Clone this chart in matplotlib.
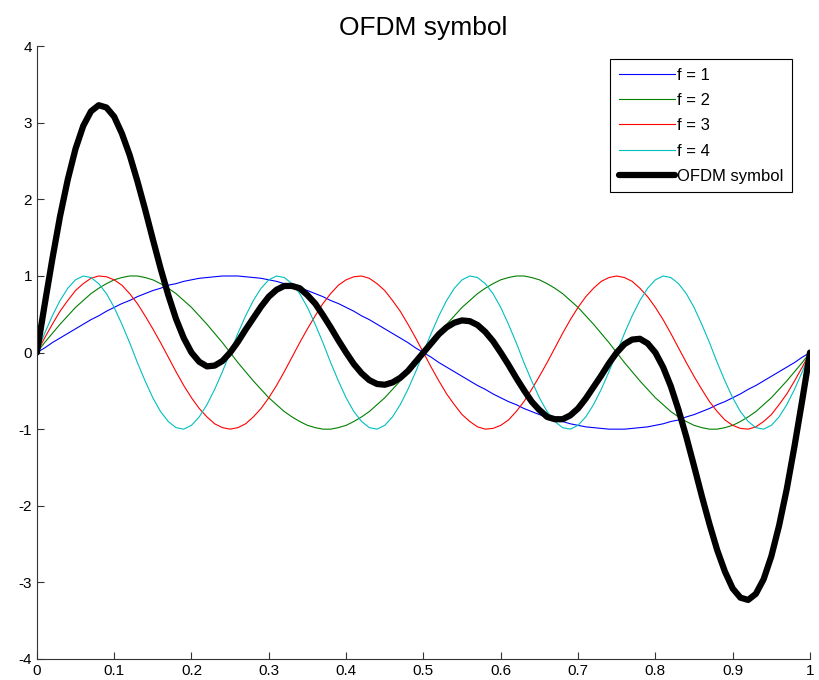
import numpy as np
import matplotlib
matplotlib.use("Agg")
import matplotlib.pyplot as plt

# sample values, t = 0, 0.01, ..., 1
f1 = [0, .06, .13, .19, .25, .31, .37, .43, .48, .54, .59, .64, .68, .73, .77, .81, .84, .88, .90, .93,
      .95, .97, .98, .99, 1.00, 1.00, 1.00, .99, .98, .97, .95, .93, .90, .88, .84, .81, .77, .73, .68, .64,
      .59, .54, .48, .43, .37, .31, .25, .19, .13, .06, 0,
      -.06, -.13, -.19, -.25, -.31, -.37, -.43, -.48, -.54, -.59, -.64, -.68, -.73, -.77, -.81, -.84, -.88, -.90, -.93,
      -.95, -.97, -.98, -.99, -1.00, -1.00, -1.00, -.99, -.98, -.97, -.95, -.93, -.90, -.88, -.84, -.81, -.77, -.73, -.68, -.64,
      -.59, -.54, -.48, -.43, -.37, -.31, -.25, -.19, -.13, -.06, 0]

f2 = [0, .13, .25, .37, .48, .59, .68, .77, .84, .90, .95, .98, 1.00, 1.00, .98, .95, .90, .84, .77, .68,
      .59, .48, .37, .25, .13, 0, -.13, -.25, -.37, -.48, -.59, -.68, -.77, -.84, -.90, -.95, -.98, -1.00, -1.00, -.98,
      -.95, -.90, -.84, -.77, -.68, -.59, -.48, -.37, -.25, -.13, 0,
      .13, .25, .37, .48, .59, .68, .77, .84, .90, .95, .98, 1.00, 1.00, .98, .95, .90, .84, .77, .68,
      .59, .48, .37, .25, .13, 0, -.13, -.25, -.37, -.48, -.59, -.68, -.77, -.84, -.90, -.95, -.98, -1.00, -1.00, -.98,
      -.95, -.90, -.84, -.77, -.68, -.59, -.48, -.37, -.25, -.13, 0]

f3 = [0, .19, .37, .54, .68, .81, .90, .97, 1.00, .99, .95, .88, .77, .64, .48, .31, .13, -.06, -.25, -.43,
      -.59, -.73, -.84, -.93, -.98, -1.00, -.98, -.93, -.84, -.73, -.59, -.43, -.25, -.06, .13, .31, .48, .64, .77, .88,
      .95, .99, 1.00, .97, .90, .81, .68, .54, .37, .19, 0,
      -.19, -.37, -.54, -.68, -.81, -.90, -.97, -1.00, -.99, -.95, -.88, -.77, -.64, -.48, -.31, -.13, .06, .25, .43,
      .59, .73, .84, .93, .98, 1.00, .98, .93, .84, .73, .59, .43, .25, .06, -.13, -.31, -.48, -.64, -.77, -.88,
      -.95, -.99, -1.00, -.97, -.90, -.81, -.68, -.54, -.37, -.19, 0]

f4 = [0, .25, .48, .68, .84, .95, 1.00, .98, .90, .77, .59, .37, .13, -.13, -.37, -.59, -.77, -.90, -.98, -1.00,
      -.95, -.84, -.68, -.48, -.25, 0, .25, .48, .68, .84, .95, 1.00, .98, .90, .77, .59, .37, .13, -.13, -.37,
      -.59, -.77, -.90, -.98, -1.00, -.95, -.84, -.68, -.48, -.25, 0,
      .25, .48, .68, .84, .95, 1.00, .98, .90, .77, .59, .37, .13, -.13, -.37, -.59, -.77, -.90, -.98, -1.00,
      -.95, -.84, -.68, -.48, -.25, 0, .25, .48, .68, .84, .95, 1.00, .98, .90, .77, .59, .37, .13, -.13, -.37,
      -.59, -.77, -.90, -.98, -1.00, -.95, -.84, -.68, -.48, -.25, 0]

ofdm = [0, .62, 1.22, 1.78, 2.26, 2.66, 2.96, 3.15, 3.23, 3.20, 3.08, 2.86, 2.58, 2.24, 1.87, 1.48, 1.10, .75, .44, .19,
        0, -.12, -.18, -.17, -.11, 0, .14, .30, .45, .60, .73, .82, .87, .87, .84, .75, .64, .49, .33, .16,
        0, -.15, -.27, -.36, -.41, -.42, -.39, -.33, -.24, -.12, 0,
        .12, .24, .33, .39, .42, .41, .36, .27, .15, 0, -.16, -.33, -.49, -.64, -.75, -.84, -.87, -.87, -.82, -.73,
        -.60, -.45, -.30, -.14, 0, .11, .17, .18, .12, 0, -.19, -.44, -.75, -1.10, -1.48, -1.87, -2.24, -2.58, -2.86, -3.08,
        -3.20, -3.23, -3.15, -2.96, -2.66, -2.26, -1.78, -1.22, -.62, 0]

labels = ["f = 1", "f = 2", "f = 3", "f = 4", "OFDM symbol"]
colors = ["#0000ff", "#008000", "#ff0000", "#00bfbf"]

t = np.linspace(0, 1, len(f1))

plt.rcParams['font.family'] = ['Liberation Sans', 'DejaVu Sans']
plt.rcParams['axes.unicode_minus'] = False

fig = plt.figure(figsize=(8.19, 6.8), dpi=100)
ax = fig.add_axes([0.045, 0.031, 0.944, 0.901])

for ys, c, lab in zip([f1, f2, f3, f4], colors, labels[:4]):
    ax.plot(t, ys, color=c, linewidth=0.8, label=lab)
ax.plot(t, ofdm, color="black", linewidth=4.5, label=labels[4], solid_capstyle="round")

ax.set_xlim(0, 1)
ax.set_ylim(-4, 4)
ax.set_xticks(np.arange(0, 1.01, 0.1))
ax.set_xticklabels(["0", "0.1", "0.2", "0.3", "0.4", "0.5", "0.6", "0.7", "0.8", "0.9", "1"])
ax.set_yticks(range(-4, 5))
ax.tick_params(direction="in", length=5, width=0.8, labelsize=11, colors="#333333", labelcolor="black")
ax.spines["top"].set_visible(False)
ax.spines["right"].set_visible(False)
for s in ["left", "bottom"]:
    ax.spines[s].set_color("#333333")
    ax.spines[s].set_linewidth(0.8)

ax.set_title("OFDM symbol", fontsize=19, pad=8)

leg = ax.legend(loc="upper right", bbox_to_anchor=(0.983, 0.987), fontsize=12, handlelength=3.4,
                handletextpad=0.1, fancybox=False, framealpha=1, borderpad=0.5, labelspacing=0.62,
                borderaxespad=0.3)
leg.get_frame().set_edgecolor("black")
leg.get_frame().set_linewidth(0.8)

fig.savefig("out.png", dpi=100)
